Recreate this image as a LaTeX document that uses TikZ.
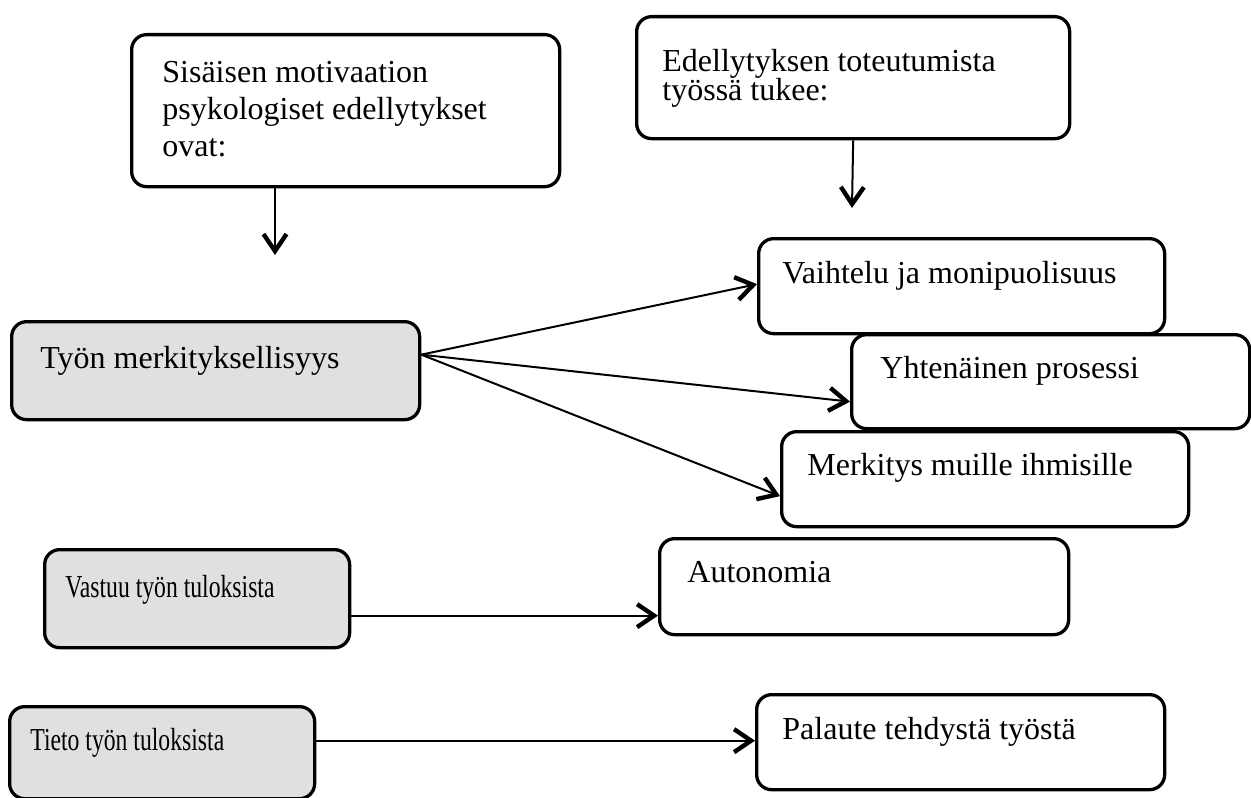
\documentclass[tikz,border=0pt]{standalone}
\usepackage{fontspec}
\setmainfont{Liberation Serif}
\newfontfamily\narrowserif[FakeStretch=0.74]{Liberation Serif}
\usetikzlibrary{arrows.meta}
\definecolor{boxgray}{RGB}{224,224,224}
\newcommand{\tightlines}{\fontsize{16}{14.5}\selectfont\setlength{\lineskiplimit}{-8pt}}

\begin{document}
\begin{tikzpicture}[x=0.5pt,y=-0.5pt,
  box/.style={draw=black, line width=1.65pt, rounded corners=7.5pt, anchor=north west, inner sep=0pt},
  graybox/.style={box, fill=boxgray},
  txt/.style={anchor=base west, inner sep=0pt, align=left, font=\fontsize{16}{18.5}\selectfont},
  arr/.style={line width=1pt, -{Straight Barb[length=8.5pt,width=11.5pt,line width=2.2pt]}}]
\useasboundingbox (0,0) rectangle (1251,797);

% top boxes (base anchor = last line)
\node[box, minimum width=214pt, minimum height=76pt] (motiv) at (130,33) {};
\node[txt] (motivtxt) at (162,156) {Sisäisen motivaation\\psykologiset edellytykset\\ovat:};
\node[box, minimum width=216.5pt, minimum height=61pt] (edell) at (635,15) {};
\node[txt, font=\tightlines] (edelltxt) at (662,101) {Edellytyksen toteutumista\\työssä tukee:};

\coordinate (motivend) at (275,255);
\coordinate (edellend) at (852,208);
\draw[arr] (motiv.south -| motivend) -- (motivend);
\draw[arr] (edell.south) -- (edellend);

% left column
\node[graybox, minimum width=204pt, minimum height=49pt] (merk) at (10,320) {};
\node[txt] (merktxt) at (40,368) {Työn merkityksellisyys};
\node[graybox, minimum width=152.5pt, minimum height=49pt] (vastuu) at (43,548) {};
\node[txt] (vastuutxt) at (65,597) {\narrowserif Vastuu työn tuloksista};
\node[graybox, minimum width=152.5pt, minimum height=46pt] (tieto) at (8,705) {};
\node[txt] (tietotxt) at (30,750) {\narrowserif Tieto työn tuloksista};

% right column
\node[box, minimum width=203pt, minimum height=47.5pt] (vaiht) at (757,237) {};
\node[txt] (vaihttxt) at (782,283) {Vaihtelu ja monipuolisuus};
\node[box, minimum width=199pt, minimum height=47pt] (yht) at (850,333) {};
\node[txt] (yhttxt) at (880,378) {Yhtenäinen prosessi};
\node[box, minimum width=203.5pt, minimum height=47.5pt] (muille) at (780,430) {};
\node[txt] (muilletxt) at (807,475) {Merkitys muille ihmisille};
\node[box, minimum width=204.5pt, minimum height=48pt] (auto) at (658,537) {};
\node[txt] (autotxt) at (687,582) {Autonomia};
\node[box, minimum width=204pt, minimum height=47.5pt] (palaute) at (755,693) {};
\node[txt] (palautetxt) at (782,739) {Palaute tehdystä työstä};

% connectors
\coordinate (fork) at ([yshift=8pt]merk.east);
\draw[arr] (fork) -- ([yshift=1pt]vaiht.west);
\draw[arr] (fork) -- ([yshift=-10pt]yht.west);
\draw[arr] (fork) -- ([yshift=-8.5pt]muille.west);
\draw[arr] ([yshift=-8.5pt]vastuu.east) -- ([yshift=-8.5pt]vastuu.east -| auto.west);
\draw[arr] ([yshift=6pt]tieto.east) -- ([yshift=6pt]tieto.east -| palaute.west);

\end{tikzpicture}
\end{document}
